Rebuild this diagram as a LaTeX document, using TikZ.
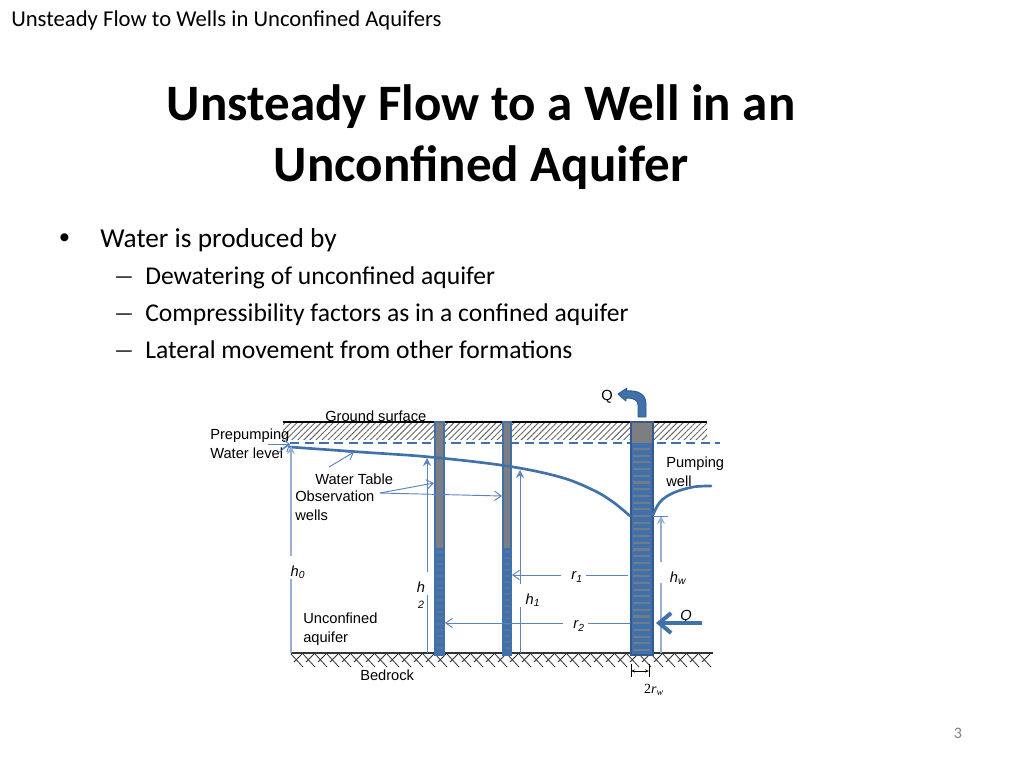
\documentclass[tikz,border=0pt]{standalone}
\usepackage{fontspec}
\setmainfont{Carlito}
\newfontfamily\labelfont{Liberation Sans}
\newfontfamily\symbfont{Liberation Serif}
\usepackage{tikz}
\usetikzlibrary{patterns.meta, arrows.meta}
\definecolor{wellblue}{RGB}{65,113,170}
\definecolor{darkblue}{RGB}{50,90,145}
\definecolor{thinblue}{RGB}{90,130,190}
\definecolor{paleblue}{RGB}{150,175,215}
\definecolor{wellgray}{RGB}{125,125,130}
\tikzstyle{headline} = [anchor=base west, inner sep=0pt, font=\fontsize{17}{17}\selectfont]
\tikzstyle{maintitle} = [align=center, inner sep=0pt, font=\fontsize{38.3}{45.75}\selectfont\bfseries]
\tikzstyle{bodytext} = [anchor=base west, inner sep=0pt, font=\fontsize{19.2}{19.2}\selectfont]
\tikzstyle{dashmark} = [anchor=base west, inner sep=0pt, font=\fontsize{16}{16}\selectfont]
\tikzstyle{tag} = [anchor=north west, inner sep=0pt, align=left, font=\labelfont\fontsize{11}{13.6}\selectfont]
\tikzstyle{symb} = [inner sep=0pt, font=\labelfont\itshape\fontsize{11}{11}\selectfont]
\tikzstyle{arrow} = [draw=thinblue, line width=0.7pt, -{Straight Barb[length=5pt,width=7pt]}]
\tikzstyle{dimtip} = [draw=thinblue, line width=0.7pt, -{Stealth[length=6pt,width=6pt]}]
\tikzstyle{dimline} = [draw=thinblue, line width=0.7pt]
\tikzstyle{paleline} = [draw=paleblue, line width=1pt]
\tikzstyle{flow} = [draw=wellblue, line width=2pt, line cap=round]
\tikzstyle{bigarrow} = [draw=wellblue, line width=3pt, -{Straight Barb[length=9pt,width=15pt,line width=3pt]}]
\begin{document}
\begin{tikzpicture}[x=0.75pt, y=-0.75pt]
    \useasboundingbox (0,0) rectangle (1024,768);

    \node (header) [headline] at (11,26) {Unsteady Flow to Wells in Unconfined Aquifers};
    \node (judul) [maintitle] at (481,137) {Unsteady Flow to a Well in an\\Unconfined Aquifer};
    \node (dot) [bodytext, font=\labelfont\fontsize{22}{22}\selectfont] at (59,247) {•};
    \node (point) [bodytext, font=\fontsize{20.5}{20.5}\selectfont] at (100,247) {Water is produced by};
    \node (dash-a) [dashmark] at (114,283) {—};
    \node (dash-b) [dashmark] at (114,320) {—};
    \node (dash-c) [dashmark] at (114,357) {—};
    \node (sub-a) [bodytext] at (145,284) {Dewatering of unconfined aquifer};
    \node (sub-b) [bodytext] at (145,321) {Compressibility factors as in a confined aquifer};
    \node (sub-c) [bodytext] at (145,358) {Lateral movement from other formations};
    \node (halaman) [inner sep=0pt, text=gray, font=\fontsize{12}{12}\selectfont] at (958,733) {3};

    \fill [pattern={Lines[angle=45,distance=3.2pt,line width=0.7pt]}, pattern color=black!60] (283,423) rectangle (707,439);
    \draw [black, line width=1pt] (283,422) -- (707,422);
    \draw [wellblue, line width=1pt, dash pattern=on 7pt off 4pt] (290,443) -- (720,443);

    \foreach \xpos in {291,303,...,700} {
        \draw [black!80, line width=0.6pt] (\xpos,654) -- (\xpos+12,667);
        \draw [black!80, line width=0.6pt] (\xpos+3,662) -- (\xpos+11,654);
    }
    \draw [black!80, line width=1.2pt] (291,653) -- (713,653);

    \fill [wellgray] (434,421) rectangle (445,655);
    \fill [wellgray] (502,421) rectangle (512,655);
    \fill [wellgray] (630,421) rectangle (653,655);
    \fill [wellblue] (434,548) rectangle (445,655);
    \fill [wellblue] (502,548) rectangle (512,655);
    \fill [wellblue] (630,443) rectangle (653,655);
    \foreach \ypos in {449,455.7,...,652} {
        \draw [wellgray!85!wellblue, line width=1.6pt] (633,\ypos) -- (650,\ypos);
    }
    \foreach \ypos in {552,558,...,652} {
        \draw [wellgray!40!wellblue, line width=1pt] (436.5,\ypos) -- (442.5,\ypos);
        \draw [wellgray!40!wellblue, line width=1pt] (504.5,\ypos) -- (509.5,\ypos);
    }
    \draw [wellblue, line width=1.7pt] (435,422) rectangle (444,655);
    \draw [wellblue, line width=1.7pt] (503,422) rectangle (511,655);
    \draw [darkblue, line width=1.5pt] (630.5,421.5) rectangle (652.5,655);

    \coordinate (wt-a) at (290,447);
    \coordinate (wt-b) at (630,516);
    \coordinate (wt-c) at (653,515);
    \coordinate (wt-d) at (711,486);
    \draw [flow] plot [smooth, tension=0.6] coordinates {(wt-a) (360,452) (430,457) (507,466) (560,477) (593,490) (613,502) (wt-b)};
    \draw [flow] plot [smooth, tension=0.6] coordinates {(wt-c) (660,502) (673,493) (693,487) (wt-d)};

    \node (ground) [tag, anchor=west] at (325,416) {Ground surface};
    \node (prepump) [tag] at (210,429) {Prepumping\\Water level};
    \node (watertable) [tag, anchor=west] at (315,479) {Water Table};
    \node (obs) [tag] at (295,491) {Observation\\wells};
    \node (pumpwell) [tag] at (666,457) {Pumping\\well};
    \node (aquifer) [tag] at (303,613) {Unconfined\\aquifer};
    \node (bedrock) [tag, anchor=west] at (360,675) {Bedrock};
    \node (debit) [tag, anchor=west] at (601,397) {Q};

    \node (h-nol) [symb] at (298,572) {h\textsubscript{0}};
    \node (h-dua) [symb] at (421,587) {h};
    \node (h-dua-sub) [symb, font=\labelfont\itshape\fontsize{8}{8}\selectfont] at (421,605) {2};
    \node (h-satu) [symb] at (533,600) {h\textsubscript{1}};
    \node (h-w) [symb] at (678,578) {h\textsubscript{w}};
    \node (r-satu) [symb] at (577,577) {r\textsubscript{1}};
    \node (r-dua) [symb] at (579,626) {r\textsubscript{2}};
    \node (debit-dua) [symb] at (686,617) {Q};
    \node (dua-rw) [inner sep=0pt, font=\symbfont\fontsize{10.5}{10.5}\selectfont] at (654,690) {2\textit{r}\textsubscript{\textit{w}}};

    \coordinate (prepump-a) at (268,444);
    \coordinate (prepump-b) at (290,444);
    \coordinate (prepump-c) at (278,453);
    \coordinate (wt-from) at (329,467);
    \coordinate (wt-to) at (354,452);
    \coordinate (obs-from) at (380,493);
    \coordinate (obs-a) at (434,483);
    \coordinate (obs-b) at (502,496);
    \draw [arrow] (prepump-a) -- (prepump-b);
    \draw [arrow] (prepump-c) -- (prepump-b);
    \draw [arrow] (wt-from) -- (wt-to);
    \draw [arrow] (obs-from) -- (obs-a);
    \draw [arrow] (obs-from) -- (obs-b);

    \coordinate (h0-top) at (291,446);
    \coordinate (h0-bot) at (291,653);
    \coordinate (h2-top) at (427,458);
    \coordinate (h2-bot) at (427,653);
    \coordinate (h1-top) at (520,470);
    \coordinate (h1-bot) at (520,653);
    \coordinate (hw-top) at (661,516);
    \coordinate (hw-bot) at (661,653);
    \draw [paleline] (h0-bot) -- (291,579);
    \draw [dimtip, paleline] (291,556) -- (h0-top);
    \draw [dimline] (h2-bot) -- (427,595);
    \draw [dimtip] (427,572) -- (h2-top);
    \draw [dimline] (h1-bot) -- (520,607);
    \draw [dimtip] (520,584) -- (h1-top);
    \draw [paleline] (hw-bot) -- (661,583);
    \draw [dimtip, paleline] (661,562) -- (hw-top);
    \draw [dimline] (653,516) -- (668,516);

    \coordinate (r1-from) at (586,575);
    \coordinate (r1-end) at (628,575);
    \coordinate (r1-start) at (561,575);
    \coordinate (r1-to) at (512,575);
    \coordinate (r2-from) at (588,623);
    \coordinate (r2-end) at (630,623);
    \coordinate (r2-start) at (563,623);
    \coordinate (r2-to) at (445,623);
    \draw [dimline] (r1-end) -- (r1-from);
    \draw [arrow] (r1-start) -- (r1-to);
    \draw [dimline] (r2-end) -- (r2-from);
    \draw [arrow] (r2-start) -- (r2-to);

    \coordinate (in-from) at (702,623);
    \coordinate (in-to) at (656,623);
    \draw [bigarrow] (in-from) -- (in-to);
    \filldraw [fill=wellblue, draw=darkblue, line width=0.7pt, line join=round] (618,394) -- (627,388) -- (626,391) .. controls (636,390) and (646,393) .. (646,404) -- (646,417) -- (638,417) -- (638,405) .. controls (638,400) and (634,398) .. (626,398) -- (626,401) -- cycle;

    \draw [black, line width=0.6pt] (631,664) -- (631,677);
    \draw [black, line width=0.6pt] (649,664) -- (649,677);
    \draw [black, line width=0.5pt, {Stealth[length=3pt]}-{Stealth[length=3pt]}] (631,671) -- (649,671);
\end{tikzpicture}
\end{document}
